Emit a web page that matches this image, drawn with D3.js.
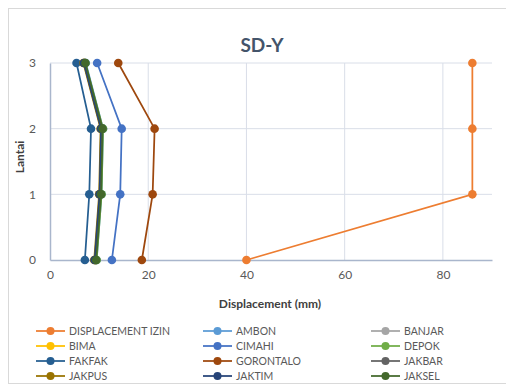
<!DOCTYPE html>
<html><head><meta charset="utf-8">
<script src="https://cdn.jsdelivr.net/npm/d3@7"></script>
<style>body{margin:0;background:#fff}svg{display:block}text{font-family:Lato,"Open Sans",sans-serif}</style>
</head><body><svg id="c" width="506" height="385"></svg>
<script>
const floors = [0, 1, 2, 3];
const seriesNames = ["DISPLACEMENT IZIN","AMBON","BANJAR","BIMA","CIMAHI","DEPOK","FAKFAK","GORONTALO","JAKBAR","JAKPUS","JAKTIM","JAKSEL"];
const seriesColors = ["#ED7D31","#5B9BD5","#A5A5A5","#FFC000","#4472C4","#70AD47","#255E91","#9E480E","#636363","#997300","#264478","#43682B"];
// values per floor 0..3
const izin      = [40, 86, 86, 86];
const ambon     = [9.5, 10.5, 10.8, 7.3];
const banjar    = [9.3, 10.2, 10.5, 7.0];
const bima      = [9.2, 10.1, 10.4, 6.9];
const cimahi    = [12.6, 14.3, 14.6, 9.6];
const depok     = [9.5, 10.5, 10.8, 7.2];
const fakfak    = [7.1, 8.0, 8.35, 5.4];
const gorontalo = [18.7, 20.9, 21.3, 13.9];
const jakbar    = [9.3, 10.3, 10.6, 7.1];
const jakpus    = [9.0, 10.0, 10.3, 6.8];
const jaktim    = [9.1, 10.1, 10.4, 6.9];
const jaksel    = [9.4, 10.4, 10.7, 7.2];
const xTicks = [0, 20, 40, 60, 80];
const yTicks = [0, 1, 2, 3];

const allValues = [izin, ambon, banjar, bima, cimahi, depok, fakfak, gorontalo, jakbar, jakpus, jaktim, jaksel];
const svg = d3.select("#c");
svg.append("rect").attr("x",8.5).attr("y",8.5).attr("width",520).attr("height",375)
  .attr("fill","#fff").attr("stroke","#D9D9D9");

const x = d3.scaleLinear().domain([0, 90]).range([50, 492]);
const y = d3.scaleLinear().domain([0, 3]).range([260, 63]);

// gridlines
svg.append("g").selectAll("line").data(yTicks.slice(1)).join("line")
  .attr("x1",50).attr("x2",492).attr("y1",d=>y(d)).attr("y2",d=>y(d))
  .attr("stroke","#D9DEE8").attr("stroke-width",1);
svg.append("g").selectAll("line").data(xTicks.slice(1)).join("line")
  .attr("x1",d=>x(d)).attr("x2",d=>x(d)).attr("y1",63).attr("y2",260)
  .attr("stroke","#D9DEE8").attr("stroke-width",1);

const xa = svg.append("g").attr("transform","translate(0,260)")
  .call(d3.axisBottom(x).tickValues(xTicks).tickFormat(d3.format("d")).tickSize(0).tickPadding(10));
xa.select(".domain").attr("stroke","#A9B6CC").attr("stroke-width",1.5);
xa.selectAll("text").attr("font-size",12).attr("fill","#595959");
const ya = svg.append("g").attr("transform","translate(50,0)")
  .call(d3.axisLeft(y).tickValues(yTicks).tickFormat(d3.format("d")).tickSize(0).tickPadding(14));
ya.select(".domain").attr("stroke","#A9B6CC").attr("stroke-width",1.5);
ya.selectAll("text").attr("font-size",12).attr("fill","#595959");

svg.append("text").attr("x",262).attr("y",52).attr("text-anchor","middle")
  .attr("font-size",19).attr("font-weight","bold").attr("fill","#44546A").text("SD-Y");
svg.append("text").attr("x",270).attr("y",308).attr("text-anchor","middle")
  .attr("font-size",12).attr("font-weight","bold").attr("fill","#404040").text("Displacement (mm)");
svg.append("text").attr("transform","translate(24,157) rotate(-90)").attr("text-anchor","middle")
  .attr("font-size",12).attr("font-weight","bold").attr("fill","#404040").text("Lantai");

const line = d3.line().x(d=>x(d[0])).y(d=>y(d[1]));
allValues.forEach((vals,i)=>{
  const pts = vals.map((v,j)=>[v, floors[j]]);
  const g = svg.append("g");
  g.append("path").attr("d", line(pts)).attr("fill","none")
    .attr("stroke", seriesColors[i]).attr("stroke-width", 1.75);
  g.selectAll("circle").data(pts).join("circle")
    .attr("cx",d=>x(d[0])).attr("cy",d=>y(d[1])).attr("r",4.3)
    .attr("fill", seriesColors[i]);
});

// legend
const colX = [36, 203, 371];
const rowY = [331, 346, 361, 376];
seriesNames.forEach((n,i)=>{
  const cx = colX[i%3], cy = rowY[Math.floor(i/3)];
  const g = svg.append("g");
  g.append("line").attr("x1",cx).attr("x2",cx+29).attr("y1",cy).attr("y2",cy)
    .attr("stroke",seriesColors[i]).attr("stroke-width",1.75);
  g.append("circle").attr("cx",cx+14.5).attr("cy",cy).attr("r",4).attr("fill",seriesColors[i]);
  g.append("text").attr("x",cx+33).attr("y",cy+3.5).attr("font-size",10.5)
    .attr("fill","#595959").text(n);
});
</script></body></html>
